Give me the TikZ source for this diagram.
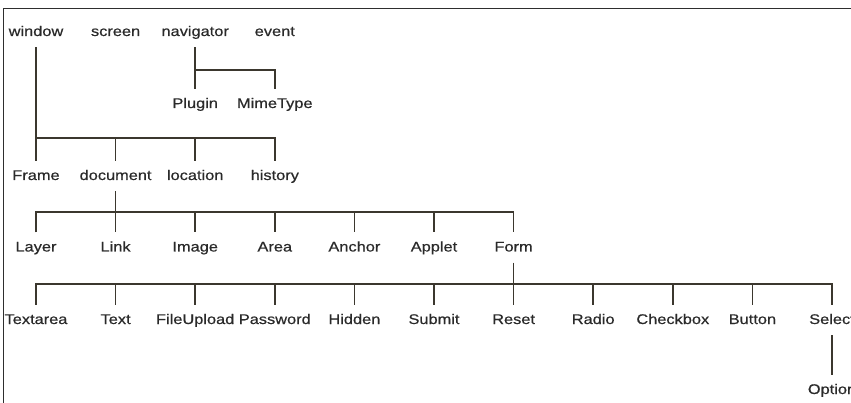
\documentclass[tikz,border=0pt]{standalone}
\usepackage{fontspec}
\setmainfont{Liberation Sans}
\newfontfamily\labfont{Liberation Sans}[FakeBold=0.5]
\newcommand\xs[1]{\scalebox{1.17}[1]{#1}}
\definecolor{ink}{HTML}{2A2A2A}
\definecolor{wirec}{HTML}{3B372E}
\definecolor{framec}{HTML}{2E2E2E}
\begin{document}
\begin{tikzpicture}[x=1pt,y=-1pt,
  lbl/.style={anchor=base, font=\labfont\fontsize{14}{16}\selectfont, text=ink,
    text height=10pt, text depth=2pt, inner xsep=0pt, inner ysep=9pt},
  wire/.style={draw=wirec, line width=1.6pt},
  border/.style={draw=framec, line width=1.8pt}]
\useasboundingbox (0,0) rectangle (851,403);
% frame edges
\draw[border] (3.5,403) -- (3.5,8.5) -- (851,8.5);
% row 1
\node[lbl] (window)    at (36+79.6*0,36) {\xs{window}};
\node[lbl] (screen)    at (36+79.6*1,36) {\xs{screen}};
\node[lbl] (navigator) at (36+79.6*2,36) {\xs{navigator}};
\node[lbl] (event)     at (36+79.6*3,36) {\xs{event}};
% row 1b
\node[lbl] (Plugin)   at (36+79.6*2,108) {\xs{Plugin}};
\node[lbl] (MimeType) at (36+79.6*3,108) {\xs{MimeType}};
% row 2
\node[lbl] (Frame)    at (36+79.6*0,180) {\xs{Frame}};
\node[lbl] (document) at (36+79.6*1,180) {\xs{document}};
\node[lbl] (location) at (36+79.6*2,180) {\xs{location}};
\node[lbl] (history)  at (36+79.6*3,180) {\xs{history}};
% row 3
\node[lbl] (Layer)  at (36+79.6*0,251.5) {\xs{Layer}};
\node[lbl] (Link)   at (36+79.6*1,251.5) {\xs{Link}};
\node[lbl] (Image)  at (36+79.6*2,251.5) {\xs{Image}};
\node[lbl] (Area)   at (36+79.6*3,251.5) {\xs{Area}};
\node[lbl] (Anchor) at (36+79.6*4,251.5) {\xs{Anchor}};
\node[lbl] (Applet) at (36+79.6*5,251.5) {\xs{Applet}};
\node[lbl] (Form)   at (36+79.6*6,251.5) {\xs{Form}};
% row 4
\node[lbl] (Textarea)   at (36+79.6*0,324) {\xs{Textarea}};
\node[lbl] (Text)       at (36+79.6*1,324) {\xs{Text}};
\node[lbl] (FileUpload) at (36+79.6*2,324) {\xs{FileUpload}};
\node[lbl] (Password)   at (36+79.6*3,324) {\xs{Password}};
\node[lbl] (Hidden)     at (36+79.6*4,324) {\xs{Hidden}};
\node[lbl] (Submit)     at (36+79.6*5,324) {\xs{Submit}};
\node[lbl] (Reset)      at (36+79.6*6,324) {\xs{Reset}};
\node[lbl] (Radio)      at (36+79.6*7,324) {\xs{Radio}};
\node[lbl] (Checkbox)   at (36+79.6*8,324) {\xs{Checkbox}};
\node[lbl] (Button)     at (36+79.6*9,324) {\xs{Button}};
\node[lbl] (Select)     at (36+79.6*10,324) {\xs{Select}};
% row 5
\node[lbl] (Option) at (36+79.6*10,394) {\xs{Option}};
% bar levels
\coordinate (b0) at (0,70);
\coordinate (b1) at (0,138);
\coordinate (b2) at (0,212);
\coordinate (b3) at (0,284);
% navigator subtree
\draw[wire] (navigator.south) -- (Plugin.north);
\draw[wire] (navigator.south |- b0) -- (MimeType.north |- b0) -- (MimeType.north);
% window subtree
\draw[wire] (window.south) -- (Frame.north);
\draw[wire] (Frame.north |- b1) -- (history.north |- b1) -- (history.north);
\foreach \n in {document,location} \draw[wire] (\n.north |- b1) -- (\n.north);
% document subtree
\draw[wire] (document.south) -- (Link.north);
\draw[wire] (Layer.north) -- (Layer.north |- b2) -- (Form.north |- b2) -- (Form.north);
\foreach \n in {Image,Area,Anchor,Applet} \draw[wire] (\n.north |- b2) -- (\n.north);
% form subtree
\draw[wire] (Form.south) -- (Reset.north);
\draw[wire] (Textarea.north) -- (Textarea.north |- b3) -- (Select.north |- b3) -- (Select.north);
\foreach \n in {Text,FileUpload,Password,Hidden,Submit,Radio,Checkbox,Button} \draw[wire] (\n.north |- b3) -- (\n.north);
% select subtree
\draw[wire] (Select.south) -- (Option.north);
\end{tikzpicture}
\end{document}
